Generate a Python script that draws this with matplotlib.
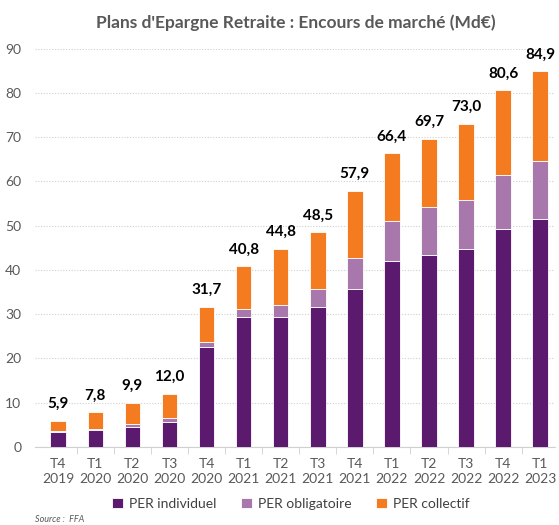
import numpy as np
import matplotlib.pyplot as plt
from matplotlib.ticker import FixedLocator

plt.rcParams['font.family'] = ['Lato', 'DejaVu Sans']

trimestres = ["T4\n2019", "T1\n2020", "T2\n2020", "T3\n2020", "T4\n2020", "T1\n2021", "T2\n2021",
              "T3\n2021", "T4\n2021", "T1\n2022", "T2\n2022", "T3\n2022", "T4\n2022", "T1\n2023"]
per_individuel = [3.3, 3.8, 4.4, 5.5, 22.5, 29.3, 29.3, 31.5, 35.6, 42.1, 43.4, 44.8, 49.2, 51.5]
per_obligatoire = [0.3, 0.3, 0.7, 0.9, 1.1, 1.8, 2.8, 4.2, 7.2, 9.0, 10.8, 11.1, 12.2, 13.1]
totaux = [5.9, 7.8, 9.9, 12.0, 31.7, 40.8, 44.8, 48.5, 57.9, 66.4, 69.7, 73.0, 80.6, 84.9]
per_collectif = [round(t - a - b, 1) for t, a, b in zip(totaux, per_individuel, per_obligatoire)]

c_ind = '#5C1A6F'
c_obl = '#A878AD'
c_col = '#F47B20'
gris = '#595959'

fig = plt.figure(figsize=(5.59, 5.25), dpi=100)
ax = fig.add_axes([0.063, 0.149, 0.93, 0.758])

x = np.arange(len(trimestres))
w = 0.42
ax.bar(x, per_individuel, w, color=c_ind, edgecolor='white', linewidth=0.6, label='PER individuel', zorder=3)
ax.bar(x, per_obligatoire, w, bottom=per_individuel, color=c_obl, edgecolor='white', linewidth=0.6,
       label='PER obligatoire', zorder=3)
bas = np.array(per_individuel) + np.array(per_obligatoire)
ax.bar(x, per_collectif, w, bottom=bas, color=c_col, edgecolor='white', linewidth=0.6,
       label='PER collectif', zorder=3)

for xi, t in zip(x, totaux):
    ax.text(xi, t + 2.2, f"{t:.1f}".replace('.', ','), ha='center', va='bottom',
            fontsize=11, fontweight='bold', color='black')

ax.set_ylim(0, 90)
ax.set_xlim(-0.62, 13.4)
ax.set_yticks(range(0, 91, 10))
ax.yaxis.grid(True, linestyle=(0, (1, 1.5)), color='#D0D0D0', linewidth=0.8, zorder=0)
ax.set_xticks(x)
ax.set_xticklabels(trimestres, color=gris, fontsize=10, linespacing=1.3)
ax.xaxis.set_minor_locator(FixedLocator(x[:-1] + 0.5))
ax.tick_params(axis='x', which='major', length=0, pad=8)
ax.tick_params(axis='x', which='minor', length=5, color='#D0D0D0')
ax.tick_params(axis='y', length=0, labelcolor=gris, labelsize=10, pad=10)
for s in ['top', 'right', 'left']:
    ax.spines[s].set_visible(False)
ax.spines['bottom'].set_color('#D0D0D0')

fig.suptitle("Plans d'Epargne Retraite : Encours de marché (Md€)", x=0.53, y=0.972,
             fontsize=12.5, fontweight='bold', color=gris)

fig.legend(loc='lower center', bbox_to_anchor=(0.52, 0.005), ncol=3, frameon=False,
           fontsize=10, handlelength=0.8, handleheight=0.8, handletextpad=0.4, columnspacing=1.8,
           labelcolor='#404040')
fig.text(0.063, 0.002, "Source :  FFA", fontsize=6.5, style='italic', color=gris, va='bottom')

fig.savefig('out.png', dpi=100)
